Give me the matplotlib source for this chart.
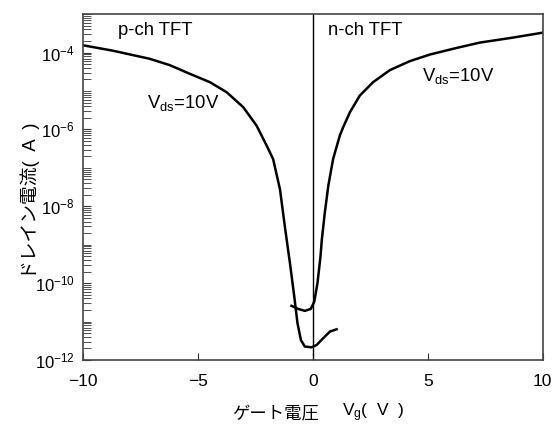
import numpy as np
import matplotlib
matplotlib.use("Agg")
import matplotlib.pyplot as plt
from matplotlib.ticker import LogLocator, NullFormatter

plt.rcParams['font.family'] = ['Liberation Sans', 'Noto Sans CJK JP', 'DejaVu Sans']
plt.rcParams['mathtext.fontset'] = 'custom'
plt.rcParams['mathtext.rm'] = 'Liberation Sans'
plt.rcParams['mathtext.it'] = 'Liberation Sans'

# p-ch TFT transfer curve (Vds = 10V)
vg_p = [-10.0, -8.7, -7.1, -6.22, -5.35, -4.48, -3.75, -3.03, -2.45, -2.01, -1.73, -1.43,
        -1.22, -1.0, -0.81, -0.67, -0.52, -0.35, -0.06, 0.16, 0.45, 0.74, 1.03]
id_p = [1.55e-4, 1.12e-4, 6.9e-5, 4.7e-5, 2.8e-5, 1.7e-5, 9.3e-6, 3.8e-6, 1.26e-6, 3.8e-7,
        1.7e-7, 2.75e-8, 3.0e-9, 3.4e-10, 4.5e-11, 9.1e-12, 3.3e-12, 2.24e-12, 2.14e-12,
        2.45e-12, 3.7e-12, 5.5e-12, 6.3e-12]

# n-ch TFT transfer curve (Vds = 10V)
vg_n = [-0.93, -0.64, -0.35, -0.09, 0.06, 0.20, 0.33, 0.39, 0.52, 0.67, 0.88, 1.17, 1.32,
        1.61, 2.04, 2.62, 3.35, 4.22, 5.09, 6.25, 7.26, 8.6, 10.0]
id_n = [2.57e-11, 2.14e-11, 1.9e-11, 2.14e-11, 3.3e-11, 1.0e-10, 4.9e-10, 1.38e-9, 6.9e-9,
        3.4e-8, 1.7e-7, 6.9e-7, 1.15e-6, 2.8e-6, 7.6e-6, 1.7e-5, 3.5e-5, 6.0e-5, 8.9e-5,
        1.32e-4, 1.82e-4, 2.4e-4, 3.3e-4]

x_ticks = [-10, -5, 0, 5, 10]
x_labels = ['\u221210', '\u22125', '0', '5', '10']
y_major = [1e-12, 1e-10, 1e-8, 1e-6, 1e-4]
y_labels = ['$10^{-12}$', '$10^{-10}$', '$10^{-8}$', '$10^{-6}$', '$10^{-4}$']

fig = plt.figure(figsize=(5.55, 4.29), dpi=100)
ax = fig.add_axes([0.1495, 0.1608, 0.8285, 0.8062])

ax.plot(vg_p, id_p, color='black', lw=1.8, solid_joinstyle='round')
ax.plot(vg_n, id_n, color='black', lw=1.8, solid_joinstyle='round')
ax.axvline(0, color='black', lw=1.0)

ax.set_yscale('log')
ax.set_xlim(-10, 10)
ax.set_ylim(1e-12, 1e-3)

ax.set_xticks(x_ticks)
ax.set_xticklabels(x_labels)
ax.set_yticks(y_major)
ax.set_yticklabels(y_labels)
ax.yaxis.set_minor_locator(LogLocator(base=10, subs=np.arange(1, 10), numticks=30))
ax.yaxis.set_minor_formatter(NullFormatter())

ax.tick_params(axis='both', which='both', direction='in', color='#333333')
ax.tick_params(axis='y', which='major', length=6, pad=6, labelsize=12)
ax.tick_params(axis='y', which='minor', length=6)
ax.tick_params(axis='x', which='major', length=5, pad=10, labelsize=12.5)

for s in ax.spines.values():
    s.set_linewidth(1.2)
    s.set_color('#444444')

ax.text(-8.48, 10**-3.42, 'p-ch TFT', fontsize=13.3, va='center', ha='left')
ax.text(0.65, 10**-3.42, 'n-ch TFT', fontsize=13.3, va='center', ha='left')
ax.text(-7.2, 10**-5.31, 'V$_{\\mathregular{ds}}$=10V', fontsize=13.3, va='center', ha='left')
ax.text(4.74, 10**-4.60, 'V$_{\\mathregular{ds}}$=10V', fontsize=13.3, va='center', ha='left')

ax.set_ylabel('ドレイン電流(  A  )', fontsize=13.5)
ax.yaxis.set_label_coords(-0.093, 0.46)

# x label split so the CJK part and the subscripted part each get a usable font
fig.text(0.418, 0.037, 'ゲート電圧', fontsize=12.5, va='center', ha='left')
fig.text(0.616, 0.037, 'V$_{\\mathregular{g}}$(  V  )', fontsize=12.5, va='center', ha='left')

fig.savefig('out.png', dpi=100)
